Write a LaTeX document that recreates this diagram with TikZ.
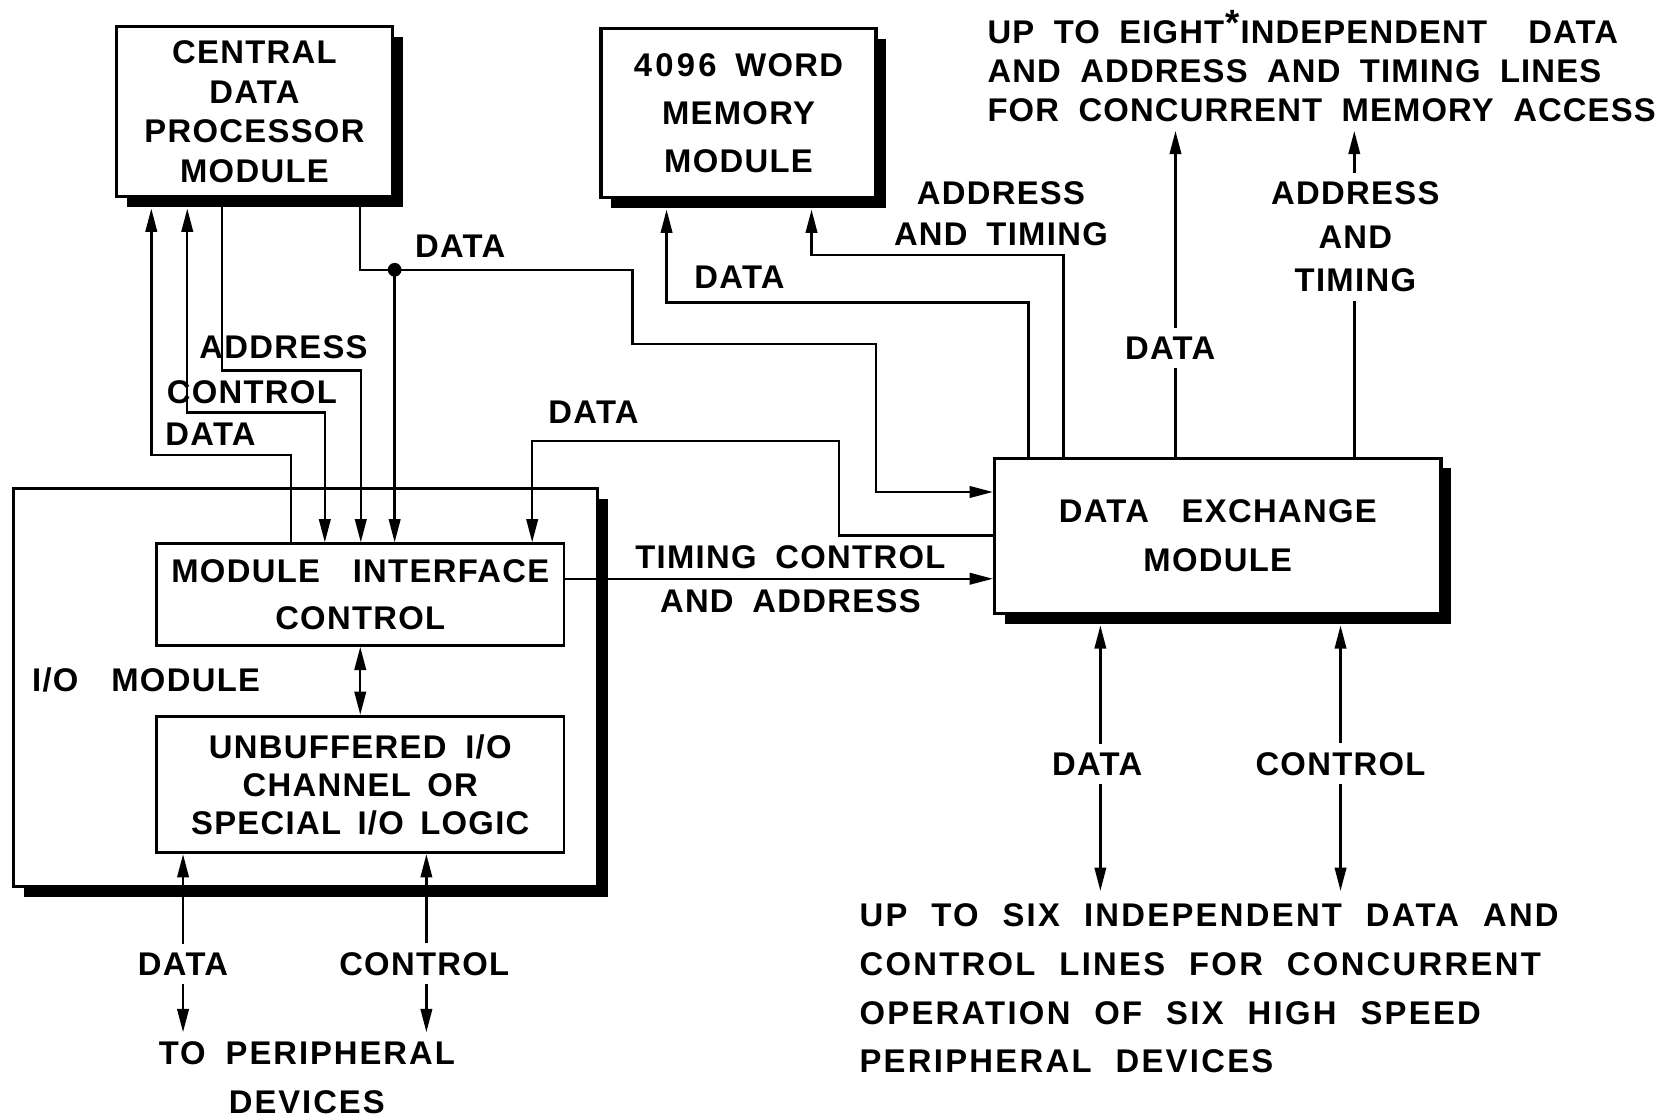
\documentclass[tikz,border=0pt]{standalone}
\usepackage{fontspec}
\setmainfont{Liberation Sans}[LetterSpace=4,WordSpace=1.8]
\newfontfamily\widefont{Liberation Sans}[LetterSpace=7,WordSpace=2.1]
\newfontfamily\perfont{Liberation Sans}[LetterSpace=6,WordSpace=1.8]
\newfontfamily\notefont{Liberation Sans}[LetterSpace=3.5,WordSpace=1.9]
\usetikzlibrary{arrows.meta,shadows}
\tikzset{
  hd/.tip={Triangle[length=11pt,width=5.4pt]},
  fnt/.style={font=\fontsize{15.5}{#1}\selectfont\bfseries},
  blk/.style={draw, line width=1.5pt, fill=white,
    general shadow={fill=black, shadow xshift=4.8pt, shadow yshift=-4.8pt}},
  inbox/.style={draw, line width=1.3pt, fill=white},
  conn/.style={line width=1.15pt},
  arr/.style={conn, -hd},
  darr/.style={conn, hd-hd},
  lbl/.style={fnt=18.75pt, align=center, inner sep=4pt},
  dotnode/.style={circle, fill=black, inner sep=0pt, minimum size=6.5pt}
}
\begin{document}
\begin{tikzpicture}[x=0.5pt,y=-0.5pt]
\fill[white] (0,0) rectangle (1568,1058);
\useasboundingbox (0,0) rectangle (1568,1058);

% main blocks
\node[blk, minimum width=130.5pt, minimum height=80.5pt, fnt=18.75pt, align=center] (cdp) at (240.5,105.5)
  {CENTRAL\\DATA\\PROCESSOR\\MODULE};
\node[blk, minimum width=130pt, minimum height=80pt, fnt=22.75pt, align=center] (mem) at (698,107)
  {{\addfontfeatures{LetterSpace=10}4096} WORD\\MEMORY\\MODULE};
\node[blk, minimum width=276pt, minimum height=188pt] (io) at (289,650) {};
\node[inbox, minimum width=192.5pt, minimum height=48pt, fnt=22pt, align=center] (mic) at (340.5,562)
  {MODULE\quad INTERFACE\\CONTROL};
\node[inbox, minimum width=192.5pt, minimum height=64.5pt, fnt=18pt, align=center] (unb) at (340.5,741.5)
  {UNBUFFERED I/O\\CHANNEL\enspace OR\\SPECIAL\enspace I/O\enspace LOGIC};
\node[lbl, anchor=west, inner sep=0pt] (iolbl) at (30,643) {I/O\quad MODULE};
\node[blk, minimum width=211pt, minimum height=73.5pt, fnt=23pt, align=center] (dem) at (1151,506.5)
  {DATA\quad EXCHANGE\\MODULE};

% notes
\node[font=\notefont\fontsize{15.5}{18.5pt}\selectfont\bfseries, align=left, anchor=north west,
      inner xsep=0pt, inner ysep=4pt] (topnote) at (933,11)
  {UP TO EIGHT\kern0.5pt\smash{\raisebox{0.45ex}{\LARGE *}}\kern0.5pt INDEPENDENT\quad\kern4pt DATA\\AND ADDRESS AND TIMING LINES\\FOR CONCURRENT MEMORY ACCESS};
\node[font=\widefont\fontsize{15.5}{23pt}\selectfont\bfseries, align=left, anchor=north west,
      inner xsep=0pt, inner ysep=6pt] (botnote) at (812,842)
  {UP TO SIX INDEPENDENT DATA AND\\CONTROL LINES FOR CONCURRENT\\OPERATION OF SIX HIGH SPEED\\PERIPHERAL DEVICES};
\node[font=\perfont\fontsize{15.5}{23.5pt}\selectfont\bfseries, align=center, inner sep=4pt] (periph) at (290,1018.5)
  {TO PERIPHERAL\\DEVICES};

% labels
\node[lbl] (lcdpdata) at (435,233) {DATA};
\node[lbl] (laddr) at (268,328) {ADDRESS};
\node[lbl] (lctrl) at (238,371) {CONTROL};
\node[lbl] (ldata) at (199,410) {DATA};
\node[lbl] (ldemdata) at (561,390) {DATA};
\node[lbl, fnt=20.5pt] (ltca) at (747,547.5) {TIMING CONTROL\\AND ADDRESS};
\node[lbl] (lmemdata) at (699,262) {DATA};
\node[lbl, fnt=19pt] (lmemaddr) at (946,202) {ADDRESS\\AND TIMING};
\node[lbl] (ltopdata) at (1106,329) {DATA};
\node[lbl, fnt=20.5pt] (ltopaddr) at (1281,224) {ADDRESS\\AND\\TIMING};
\node[lbl] (lbotdata) at (1037,722) {DATA};
\node[lbl] (lbotctrl) at (1267,722) {CONTROL};
\node[lbl] (liodata) at (173,911) {DATA};
\node[lbl] (lioctrl) at (401,911) {CONTROL};

\node[dotnode] (dot) at (373,255) {};

% CDP <-> MIC
\draw[arr, shorten >=4.8pt] (mic.north -| 275,0) -- (275,430) -- (143,430) -- (cdp.south -| 143,0);
\draw[darr, shorten <=4.8pt] (cdp.south -| 177,0) -- (177,390) -- (307,390) -- (mic.north -| 307,0);
\draw[arr] (cdp.south -| 210,0) -- (210,350) -- (341,350) -- (mic.north -| 341,0);
\draw[conn] (cdp.south -| 340,0) -- (340,255) -- (dot.center);
\draw[arr] (dot.center) -- (mic.north -| dot.center);
\draw[arr] (dot.center) -- (598,255) -- (598,325) -- (828,325) -- (828,465) -- (dem.west |- 0,465);

% DEM -> MIC
\draw[arr] (dem.west |- 0,506) -- (793,506) -- (793,417) -- (503,417) -- (mic.north -| 503,0);
\draw[arr] (mic.east |- 0,547) -- (dem.west |- 0,547);

% DEM -> memory
\draw[arr, shorten >=4.8pt] (dem.north -| 972,0) -- (972,286) -- (630,286) -- (mem.south -| 630,0);
\draw[arr, shorten >=4.8pt] (dem.north -| 1005,0) -- (1005,241) -- (767,241) -- (mem.south -| 767,0);

% DEM -> top note
\draw[conn] (dem.north -| 1111,0) -- (ltopdata.south -| 1111,0);
\draw[arr] (ltopdata.north -| 1111,0) -- (topnote.south -| 1111,0);
\draw[conn] (dem.north -| 1280,0) -- (ltopaddr.south -| 1280,0);
\draw[arr] (ltopaddr.north -| 1280,0) -- (topnote.south -| 1280,0);

% DEM <-> bottom note
\draw[arr, shorten >=4.8pt] (lbotdata.north -| 1040,0) -- (dem.south -| 1040,0);
\draw[arr] (lbotdata.south -| 1040,0) -- (botnote.north -| 1040,0);
\draw[arr, shorten >=4.8pt] (lbotctrl.north -| 1267,0) -- (dem.south -| 1267,0);
\draw[arr] (lbotctrl.south -| 1267,0) -- (botnote.north -| 1267,0);

% MIC <-> UNB
\draw[darr] (mic.south) -- (unb.north);

% UNB <-> peripherals
\draw[arr] (liodata.north -| 173,0) -- (unb.south -| 173,0);
\draw[arr] (liodata.south -| 173,0) -- (periph.north -| 173,0);
\draw[arr] (lioctrl.north -| 403,0) -- (unb.south -| 403,0);
\draw[arr] (lioctrl.south -| 403,0) -- (periph.north -| 403,0);
\end{tikzpicture}
\end{document}
